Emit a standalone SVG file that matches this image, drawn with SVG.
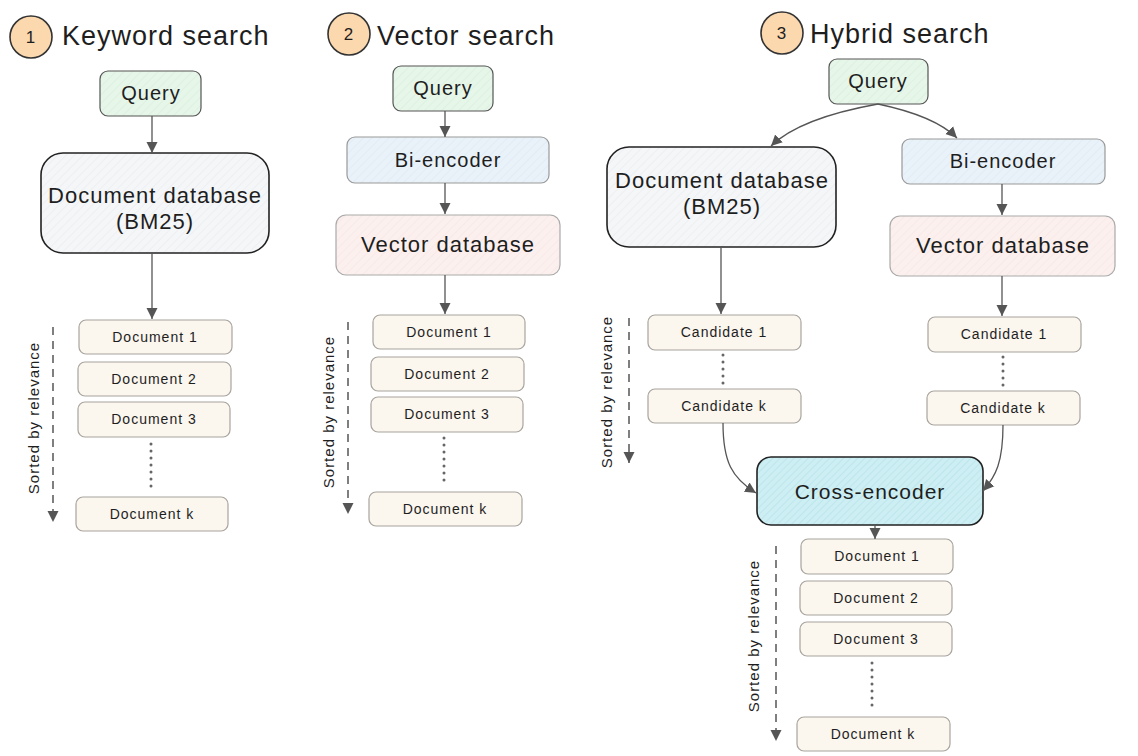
<svg xmlns="http://www.w3.org/2000/svg" width="1138" height="756" viewBox="0 0 1138 756">
<style>
text{font-family:"Liberation Sans","DejaVu Sans",sans-serif;fill:#1e1e1e;letter-spacing:1px}
.title{font-size:27px}
.num{font-size:17px;text-anchor:middle}
.big{font-size:22px;text-anchor:middle}
.mid{font-size:20px;text-anchor:middle}
.small{font-size:14px;text-anchor:middle}
.side{font-size:15px;text-anchor:middle}
.circ{fill:#fbd8ae;stroke:#333;stroke-width:1.6}
.query{fill:url(#hGreen);stroke:#555;stroke-width:1.2}
.docdb{fill:url(#hGray);stroke:#222;stroke-width:1.6}
.bienc{fill:url(#hBlue);stroke:#999;stroke-width:1.2}
.vecdb{fill:url(#hPink);stroke:#aaa;stroke-width:1.2}
.doc{fill:#fbf6ee;stroke:#a8a49e;stroke-width:1.2}
.cross{fill:url(#hCyan);stroke:#222;stroke-width:1.6}
.arr{fill:none;stroke:#555;stroke-width:1.3;marker-end:url(#ah)}
.dash{fill:none;stroke:#555;stroke-width:1.5;stroke-dasharray:8 6;marker-end:url(#ah)}
.dots{fill:none;stroke:#666;stroke-width:3;stroke-linecap:round;stroke-dasharray:0 7}
</style>
<defs>
<marker id="ah" markerWidth="12" markerHeight="12" refX="11" refY="6" orient="auto" markerUnits="userSpaceOnUse">
<path d="M0,0.5 L11,6 L0,11.5 Z" fill="#555"/>
</marker>
<pattern id="hGreen" width="6" height="6" patternUnits="userSpaceOnUse" patternTransform="rotate(45)">
<rect width="6" height="6" fill="#e6f6e9"/><line x1="0" y1="0" x2="0" y2="6" stroke="#d6ecd9" stroke-width="1"/>
</pattern>
<pattern id="hGray" width="6" height="6" patternUnits="userSpaceOnUse" patternTransform="rotate(45)">
<rect width="6" height="6" fill="#f4f6f8"/><line x1="0" y1="0" x2="0" y2="6" stroke="#e6e9ec" stroke-width="1"/>
</pattern>
<pattern id="hBlue" width="6" height="6" patternUnits="userSpaceOnUse" patternTransform="rotate(45)">
<rect width="6" height="6" fill="#e9f2f9"/><line x1="0" y1="0" x2="0" y2="6" stroke="#dbe7f1" stroke-width="1"/>
</pattern>
<pattern id="hPink" width="6" height="6" patternUnits="userSpaceOnUse" patternTransform="rotate(45)">
<rect width="6" height="6" fill="#fcf0ef"/><line x1="0" y1="0" x2="0" y2="6" stroke="#f2e2e0" stroke-width="1"/>
</pattern>
<pattern id="hCyan" width="5" height="5" patternUnits="userSpaceOnUse" patternTransform="rotate(45)">
<rect width="5" height="5" fill="#cdeef3"/><line x1="0" y1="0" x2="0" y2="5" stroke="#aedfe8" stroke-width="1"/>
</pattern>
</defs>
<rect width="1138" height="756" fill="#ffffff"/>

<!-- Column 1: Keyword search -->
<g id="title1"><circle class="circ" cx="31" cy="37" r="21"/><text class="num" x="31" y="43">1</text><text class="title" x="62" y="45">Keyword search</text></g>
<g id="k-query"><rect class="query" x="100" y="71" width="101" height="45" rx="8"/><text class="mid" x="151" y="100">Query</text></g>
<g id="k-docdb"><rect class="docdb" x="41" y="153" width="228" height="100" rx="22"/><text class="big" x="155" y="203">Document database</text><text class="big" x="155" y="229">(BM25)</text></g>
<g id="k-doc1"><rect class="doc" x="79" y="320" width="153" height="34" rx="7"/><text class="small" x="155" y="342">Document 1</text></g>
<g id="k-doc2"><rect class="doc" x="78" y="362" width="153" height="34" rx="7"/><text class="small" x="154" y="384">Document 2</text></g>
<g id="k-doc3"><rect class="doc" x="78" y="402" width="152" height="35" rx="7"/><text class="small" x="154" y="424">Document 3</text></g>
<g id="k-dock"><rect class="doc" x="76" y="497" width="152" height="34" rx="7"/><text class="small" x="152" y="519">Document k</text></g>
<g id="k-sorted"><text class="side" x="39" y="418" transform="rotate(-90 39 418)">Sorted by relevance</text></g>

<!-- Column 2: Vector search -->
<g id="title2"><circle class="circ" cx="349" cy="34" r="21"/><text class="num" x="349" y="40">2</text><text class="title" x="377" y="45">Vector search</text></g>
<g id="v-query"><rect class="query" x="393" y="66" width="100" height="45" rx="8"/><text class="mid" x="443" y="95">Query</text></g>
<g id="v-bienc"><rect class="bienc" x="347" y="137" width="202" height="46" rx="8"/><text class="mid" x="448" y="167">Bi-encoder</text></g>
<g id="v-vecdb"><rect class="vecdb" x="336" y="215" width="224" height="60" rx="10"/><text class="big" x="448" y="252">Vector database</text></g>
<g id="v-doc1"><rect class="doc" x="373" y="315" width="152" height="34" rx="7"/><text class="small" x="449" y="337">Document 1</text></g>
<g id="v-doc2"><rect class="doc" x="371" y="357" width="153" height="34" rx="7"/><text class="small" x="447" y="379">Document 2</text></g>
<g id="v-doc3"><rect class="doc" x="371" y="397" width="152" height="35" rx="7"/><text class="small" x="447" y="419">Document 3</text></g>
<g id="v-dock"><rect class="doc" x="369" y="492" width="153" height="34" rx="7"/><text class="small" x="445" y="514">Document k</text></g>
<g id="v-sorted"><text class="side" x="334" y="412" transform="rotate(-90 334 412)">Sorted by relevance</text></g>

<!-- Column 3: Hybrid search -->
<g id="title3"><circle class="circ" cx="782" cy="33" r="21"/><text class="num" x="782" y="39">3</text><text class="title" x="810" y="43">Hybrid search</text></g>
<g id="h-query"><rect class="query" x="829" y="59" width="99" height="45" rx="8"/><text class="mid" x="878" y="88">Query</text></g>
<g id="h-docdb"><rect class="docdb" x="607" y="147" width="229" height="100" rx="22"/><text class="big" x="722" y="188">Document database</text><text class="big" x="722" y="214">(BM25)</text></g>
<g id="h-bienc"><rect class="bienc" x="902" y="139" width="203" height="45" rx="8"/><text class="mid" x="1003" y="168">Bi-encoder</text></g>
<g id="h-vecdb"><rect class="vecdb" x="890" y="216" width="225" height="60" rx="10"/><text class="big" x="1003" y="253">Vector database</text></g>
<g id="h-candL1"><rect class="doc" x="648" y="315" width="153" height="35" rx="7"/><text class="small" x="724" y="337">Candidate 1</text></g>
<g id="h-candLk"><rect class="doc" x="648" y="389" width="153" height="34" rx="7"/><text class="small" x="724" y="411">Candidate k</text></g>
<g id="h-candR1"><rect class="doc" x="928" y="317" width="153" height="35" rx="7"/><text class="small" x="1004" y="339">Candidate 1</text></g>
<g id="h-candRk"><rect class="doc" x="927" y="391" width="153" height="34" rx="7"/><text class="small" x="1003" y="413">Candidate k</text></g>
<g id="h-sortedTop"><text class="side" x="612" y="392" transform="rotate(-90 612 392)">Sorted by relevance</text></g>
<g id="h-cross"><rect class="cross" x="757" y="457" width="226" height="68" rx="14"/><text class="mid" x="870" y="499" style="font-size:21px">Cross-encoder</text></g>
<g id="h-doc1"><rect class="doc" x="801" y="539" width="152" height="35" rx="7"/><text class="small" x="877" y="561">Document 1</text></g>
<g id="h-doc2"><rect class="doc" x="800" y="581" width="152" height="34" rx="7"/><text class="small" x="876" y="603">Document 2</text></g>
<g id="h-doc3"><rect class="doc" x="800" y="622" width="152" height="34" rx="7"/><text class="small" x="876" y="644">Document 3</text></g>
<g id="h-dock"><rect class="doc" x="797" y="717" width="153" height="34" rx="7"/><text class="small" x="873" y="739">Document k</text></g>
<g id="h-sortedBot"><text class="side" x="759" y="636" transform="rotate(-90 759 636)">Sorted by relevance</text></g>

<g id="connectors">
<!-- col 1 -->
<path class="arr" d="M152,116 L152,153"/>
<path class="arr" d="M152,253 L152,319"/>
<path class="dots" d="M151,444 L151,491"/>
<path class="dash" d="M53,327 L53,522"/>
<!-- col 2 -->
<path class="arr" d="M445,111 L445,137"/>
<path class="arr" d="M445,183 L445,214"/>
<path class="arr" d="M445,275 L445,314"/>
<path class="dots" d="M444,438 L444,485"/>
<path class="dash" d="M348,322 L348,514"/>
<!-- col 3 -->
<path class="arr" d="M878,104 Q800,118 771,146"/>
<path class="arr" d="M878,104 Q935,116 957,138"/>
<path class="arr" d="M1002,184 L1002,215"/>
<path class="arr" d="M721,247 L721,314"/>
<path class="arr" d="M1002,276 L1002,316"/>
<path class="dots" d="M723,355 L723,386"/>
<path class="dots" d="M1003,357 L1003,388"/>
<path class="dash" d="M629,318 L629,463"/>
<path class="arr" d="M723,423 C723,462 732,478 756,493"/>
<path class="arr" d="M1003,425 C1003,462 996,476 983,491"/>
<path class="arr" d="M875,525 L875,539"/>
<path class="dots" d="M872,663 L872,710"/>
<path class="dash" d="M776,546 L776,741"/>
</g>
</svg>
